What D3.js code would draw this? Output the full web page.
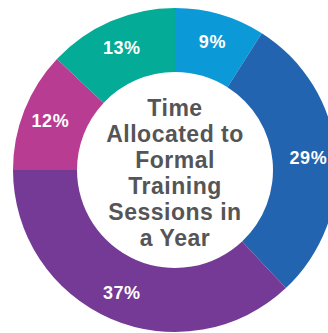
<!DOCTYPE html>
<html>
<head>
<meta charset="utf-8">
<script src="https://cdn.jsdelivr.net/npm/d3@7"></script>
<style>
  body { margin: 0; background: #fff; }
  svg { display: block; }
</style>
</head>
<body>
<div id="chart"></div>
<script>
// slice data, clockwise from 12 o'clock
let labels = ['9%', '29%', '37%', '12%', '13%'];
let values = [9, 29, 37, 12, 13];
let colors = ['#0b9ad7', '#2364b0', '#743a95', '#b83c92', '#04ab97'];
let titleLines = ['Time', 'Allocated to', 'Formal', 'Training', 'Sessions in', 'a Year'];

let width = 328,
    height = 333,
    cx = 175,
    cy = 170,
    outerR = 162,
    innerR = 98;

let svg = d3.select('#chart')
  .append('svg')
  .attr('width', width)
  .attr('height', height);

let g = svg.append('g')
  .attr('transform', 'translate(' + cx + ',' + cy + ')');

let pie = d3.pie().sort(null).value(d => d);
let arc = d3.arc().innerRadius(innerR).outerRadius(outerR);
let labelArc = d3.arc().innerRadius(innerR + 4).outerRadius(outerR + 4);
let arcs = pie(values);

g.selectAll('path.slice')
  .data(arcs)
  .enter().append('path')
    .attr('class', 'slice')
    .attr('d', arc)
    .attr('fill', (d, i) => colors[i]);

// percentage labels
g.selectAll('text.pct')
  .data(arcs)
  .enter().append('text')
    .attr('class', 'pct')
    .attr('transform', d => 'translate(' + labelArc.centroid(d) + ')')
    .attr('text-anchor', 'middle')
    .attr('dy', '0.36em')
    .attr('fill', '#fff')
    .style('font-family', '"Liberation Sans", Arial, sans-serif')
    .style('font-weight', 'bold')
    .style('font-size', '18px')
    .style('letter-spacing', '0.6px')
    .text((d, i) => labels[i]);

// centre title
let lineH = 26;
g.append('text')
  .attr('text-anchor', 'middle')
  .attr('fill', '#555557')
  .style('font-family', '"Liberation Sans", Arial, sans-serif')
  .style('font-weight', 'bold')
  .style('font-size', '23px')
  .style('letter-spacing', '0.5px')
  .selectAll('tspan')
  .data(titleLines)
  .enter().append('tspan')
    .attr('x', 0)
    .attr('y', (d, i) => 3 + (i - (titleLines.length - 1) / 2) * lineH)
    .attr('dy', '0.36em')
    .text(d => d);
</script>
</body>
</html>
